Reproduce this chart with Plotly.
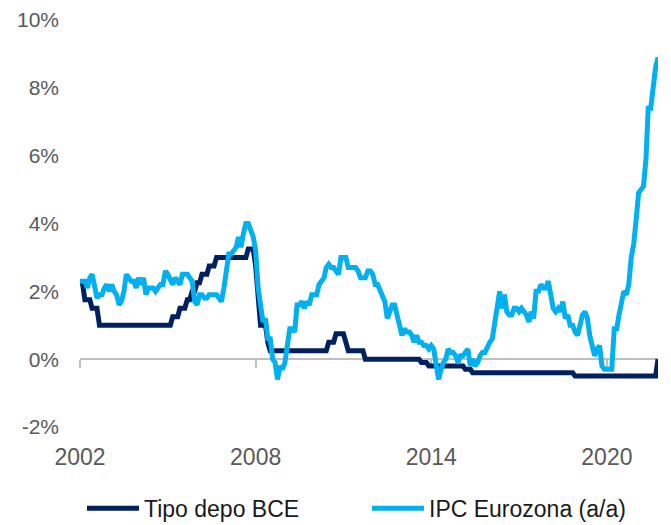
import pandas as pd
import plotly.graph_objects as go

# ---------------- data ----------------
start_month = "2002-10-01"
end_month = "2022-07-01"
months = pd.date_range(start_month, end_month, freq="MS")

tick_dates = ["2002-10-01", "2008-10-01", "2014-10-01", "2020-10-01"]
tick_labels = ["2002", "2008", "2014", "2020"]

y_ticks = [-2, 0, 2, 4, 6, 8, 10]
y_labels = ["-2%", "0%", "2%", "4%", "6%", "8%", "10%"]

series_names = ["Tipo depo BCE", "IPC Eurozona (a/a)"]

tipo_depo_bce = [
    2.25, 2.25, 1.75,
    1.75, 1.75, 1.50, 1.50, 1.50, 1.00, 1.00, 1.00, 1.00, 1.00, 1.00, 1.00,
    1.00, 1.00, 1.00, 1.00, 1.00, 1.00, 1.00, 1.00, 1.00, 1.00, 1.00, 1.00,
    1.00, 1.00, 1.00, 1.00, 1.00, 1.00, 1.00, 1.00, 1.00, 1.00, 1.00, 1.25,
    1.25, 1.25, 1.50, 1.50, 1.50, 1.75, 1.75, 2.00, 2.00, 2.25, 2.25, 2.50,
    2.50, 2.50, 2.75, 2.75, 2.75, 3.00, 3.00, 3.00, 3.00, 3.00, 3.00, 3.00,
    3.00, 3.00, 3.00, 3.00, 3.00, 3.00, 3.25, 3.25, 3.25, 2.75, 2.00, 1.00,
    1.00, 1.00, 0.50, 0.25, 0.25, 0.25, 0.25, 0.25, 0.25, 0.25, 0.25, 0.25,
    0.25, 0.25, 0.25, 0.25, 0.25, 0.25, 0.25, 0.25, 0.25, 0.25, 0.25, 0.25,
    0.25, 0.25, 0.25, 0.50, 0.50, 0.50, 0.75, 0.75, 0.75, 0.75, 0.50, 0.25,
    0.25, 0.25, 0.25, 0.25, 0.25, 0.25, 0.00, 0.00, 0.00, 0.00, 0.00, 0.00,
    0.00, 0.00, 0.00, 0.00, 0.00, 0.00, 0.00, 0.00, 0.00, 0.00, 0.00, 0.00,
    0.00, 0.00, 0.00, 0.00, 0.00, -0.10, -0.10, -0.10, -0.20, -0.20, -0.20, -0.20,
    -0.20, -0.20, -0.20, -0.20, -0.20, -0.20, -0.20, -0.20, -0.20, -0.20, -0.20, -0.30,
    -0.30, -0.30, -0.40, -0.40, -0.40, -0.40, -0.40, -0.40, -0.40, -0.40, -0.40, -0.40,
    -0.40, -0.40, -0.40, -0.40, -0.40, -0.40, -0.40, -0.40, -0.40, -0.40, -0.40, -0.40,
    -0.40, -0.40, -0.40, -0.40, -0.40, -0.40, -0.40, -0.40, -0.40, -0.40, -0.40, -0.40,
    -0.40, -0.40, -0.40, -0.40, -0.40, -0.40, -0.40, -0.40, -0.50, -0.50, -0.50, -0.50,
    -0.50, -0.50, -0.50, -0.50, -0.50, -0.50, -0.50, -0.50, -0.50, -0.50, -0.50, -0.50,
    -0.50, -0.50, -0.50, -0.50, -0.50, -0.50, -0.50, -0.50, -0.50, -0.50, -0.50, -0.50,
    -0.50, -0.50, -0.50, -0.50, -0.50, -0.50, 0.00,
]

ipc_eurozona = [
    2.3, 2.3, 2.3,
    2.1, 2.4, 2.5, 2.1, 1.8, 1.9, 1.9, 2.1, 2.2, 2.0, 2.2, 2.0,
    1.9, 1.6, 1.7, 2.0, 2.5, 2.4, 2.3, 2.3, 2.1, 2.4, 2.2, 2.4,
    1.9, 2.1, 2.1, 2.1, 2.0, 2.1, 2.2, 2.2, 2.6, 2.5, 2.3, 2.2,
    2.4, 2.3, 2.2, 2.5, 2.5, 2.5, 2.4, 2.3, 1.7, 1.6, 1.9, 1.9,
    1.8, 1.8, 1.9, 1.9, 1.9, 1.9, 1.8, 1.7, 2.1, 2.6, 3.1, 3.1,
    3.2, 3.3, 3.6, 3.3, 3.7, 4.0, 4.0, 3.8, 3.6, 3.2, 2.1, 1.6,
    1.1, 1.2, 0.6, 0.6, 0.0, -0.1, -0.6, -0.2, -0.3, -0.1, 0.5, 0.9,
    0.9, 0.8, 1.6, 1.6, 1.7, 1.5, 1.7, 1.6, 1.9, 1.9, 1.9, 2.2,
    2.3, 2.4, 2.7, 2.8, 2.7, 2.7, 2.6, 2.5, 3.0, 3.0, 3.0, 2.7,
    2.7, 2.7, 2.7, 2.6, 2.4, 2.4, 2.4, 2.6, 2.6, 2.5, 2.2, 2.2,
    2.0, 1.8, 1.7, 1.2, 1.4, 1.6, 1.6, 1.3, 1.1, 0.7, 0.9, 0.8,
    0.8, 0.7, 0.5, 0.7, 0.5, 0.5, 0.4, 0.4, 0.3, 0.4, 0.3, -0.2,
    -0.6, -0.3, -0.1, 0.0, 0.3, 0.2, 0.2, 0.1, -0.1, 0.1, 0.1, 0.2,
    0.3, -0.2, 0.0, -0.2, -0.1, 0.1, 0.2, 0.2, 0.4, 0.5, 0.6, 1.1,
    1.7, 2.0, 1.5, 1.9, 1.4, 1.3, 1.3, 1.5, 1.5, 1.4, 1.5, 1.4,
    1.3, 1.1, 1.4, 1.2, 2.0, 2.0, 2.2, 2.1, 2.1, 2.3, 1.9, 1.5,
    1.4, 1.5, 1.4, 1.7, 1.2, 1.3, 1.0, 1.0, 0.8, 0.7, 1.0, 1.3,
    1.4, 1.2, 0.7, 0.3, 0.1, 0.3, 0.4, -0.2, -0.3, -0.3, -0.3, -0.3,
    0.9, 0.9, 1.3, 1.6, 2.0, 1.9, 2.2, 3.0, 3.4, 4.1, 4.9, 5.0,
    5.1, 5.9, 7.4, 7.4, 8.1, 8.6, 8.9,
]

# ---------------- styling ----------------
DARK = "#002060"
LIGHT = "#00B0F0"
AXIS_GRAY = "#BFBFBF"
LABEL_GRAY = "#595959"
FONT = "Liberation Sans, Arial, sans-serif"

x_range = [start_month, end_month]

fig = go.Figure()
fig.add_trace(go.Scatter(
    x=months, y=tipo_depo_bce, name=series_names[0], mode="lines",
    line=dict(color=DARK, width=5), xaxis="x", yaxis="y",
))
fig.add_trace(go.Scatter(
    x=months, y=ipc_eurozona, name=series_names[1], mode="lines",
    line=dict(color=LIGHT, width=5), xaxis="x2", yaxis="y",
))

fig.update_layout(
    width=671, height=525,
    margin=dict(l=80, r=13, t=20, b=98, autoexpand=False),
    paper_bgcolor="white", plot_bgcolor="white",
    font=dict(family=FONT, color=LABEL_GRAY),
    showlegend=True,
    legend=dict(
        orientation="h", x=(82 - 80) / 578, xanchor="left",
        y=-0.20, yanchor="middle",
        font=dict(size=23, color="#1A1A1A", family=FONT),
        itemwidth=52, entrywidth=218, entrywidthmode="pixels",
        bgcolor="rgba(0,0,0,0)",
    ),
    # zero-level axis line with tick marks
    xaxis=dict(
        type="date", range=x_range,
        anchor="free", position=1 / 6,
        showline=True, linecolor=AXIS_GRAY, linewidth=2,
        ticks="outside", ticklen=8, tickwidth=2, tickcolor=AXIS_GRAY,
        tickvals=tick_dates, showticklabels=False,
        showgrid=False, zeroline=False, layer="below traces",
    ),
    # bottom labels
    xaxis2=dict(
        type="date", range=x_range, overlaying="x", anchor="y", side="bottom",
        showline=False, ticks="", tickvals=tick_dates, ticktext=tick_labels,
        tickfont=dict(size=23, color=LABEL_GRAY, family=FONT),
        ticklabelstandoff=14,
        showgrid=False, zeroline=False,
    ),
    yaxis=dict(
        range=[-2, 10], tickvals=y_ticks, ticktext=y_labels,
        tickfont=dict(size=21, color=LABEL_GRAY, family=FONT),
        showgrid=False, zeroline=False, showline=False, ticks="",
        ticklabelstandoff=20,
    ),
)

fig.write_html(
    "out.html",
    config={"displayModeBar": False},
    post_script="document.body.style.margin='0';",
)
